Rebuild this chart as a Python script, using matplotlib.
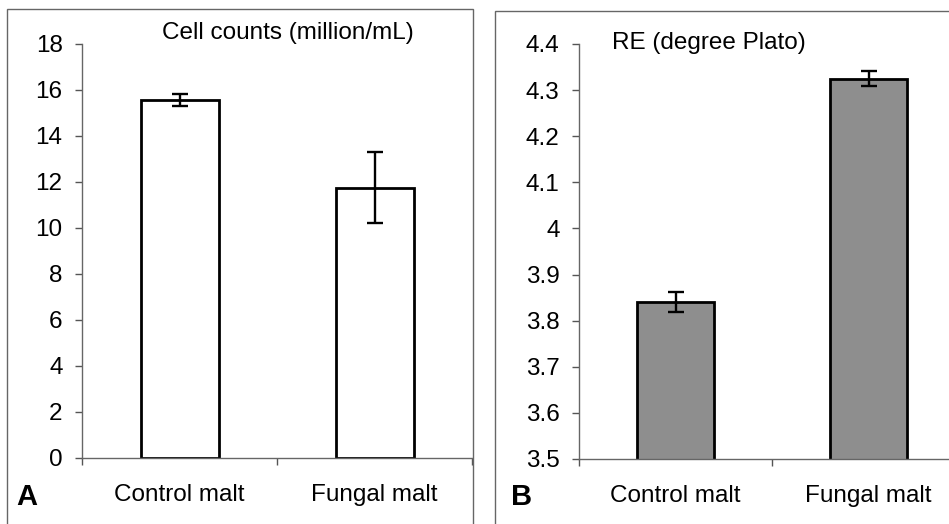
import matplotlib
matplotlib.use("Agg")
import matplotlib.pyplot as plt
from matplotlib.patches import Rectangle

plt.rcParams['font.family'] = ['Liberation Sans', 'DejaVu Sans']

categories = ["Control malt", "Fungal malt"]
cell_counts = [15.57, 11.75]
cell_err = [0.27, 1.55]
re_values = [3.84, 4.325]
re_err = [0.022, 0.016]

W, H = 949, 524
fig = plt.figure(figsize=(W / 100, H / 100), dpi=100)
fig.patch.set_facecolor("white")

def fx(px):
    return px / W

def fy(py):
    return 1 - py / H

# panel borders
for (x0, y0, x1, y1) in [(7, 9, 473, 526), (495, 11, 960, 526)]:
    fig.patches.append(Rectangle((fx(x0), fy(y1)), fx(x1 - x0), (y1 - y0) / H,
                                 transform=fig.transFigure, fill=False,
                                 edgecolor="#666666", linewidth=1.0))

def setup(ax, ylim, yticks, yticklabels):
    ax.set_xlim(-0.5, 1.5)
    ax.set_ylim(*ylim)
    ax.set_yticks(yticks)
    ax.set_yticklabels(yticklabels)
    ax.set_xticks([0, 1])
    ax.set_xticklabels(categories)
    ax.set_xticks([-0.5, 0.5, 1.5], minor=True)
    ax.tick_params(axis="x", which="major", length=0, pad=19, labelsize=17.5)
    ax.tick_params(axis="x", which="minor", length=5, width=1, color="#555555", direction="out")
    ax.tick_params(axis="y", which="major", length=5, width=1, color="#555555", pad=9, labelsize=17.5)
    for s in ["top", "right"]:
        ax.spines[s].set_visible(False)
    for s in ["left", "bottom"]:
        ax.spines[s].set_color("#666666")
        ax.spines[s].set_linewidth(1.0)
    ax.patch.set_alpha(0)

# Panel A
axA = fig.add_axes([fx(82), fy(458), fx(472 - 82), (458 - 44) / H])
axA.bar([0, 1], cell_counts, width=0.4, color="white", edgecolor="black",
        linewidth=2.0, zorder=2)
axA.errorbar([0, 1], cell_counts, yerr=cell_err, fmt="none", ecolor="black",
             elinewidth=1.7, capsize=5.5, capthick=1.7, zorder=3)
setup(axA, (0, 18), list(range(0, 19, 2)), [str(v) for v in range(0, 19, 2)])
fig.text(fx(288), fy(33), "Cell counts (million/mL)", ha="center", va="center", fontsize=17.5)
fig.text(fx(27), fy(497), "A", ha="center", va="center", fontsize=21, fontweight="bold")

# Panel B
axB = fig.add_axes([fx(579), fy(459), fx(965 - 579), (459 - 44) / H])
axB.bar([0, 1], re_values, width=0.4, color="#8e8e8e", edgecolor="black",
        linewidth=2.0, zorder=2)
axB.errorbar([0, 1], re_values, yerr=re_err, fmt="none", ecolor="black",
             elinewidth=1.7, capsize=5.5, capthick=1.7, zorder=3)
b_ticks = [3.5, 3.6, 3.7, 3.8, 3.9, 4.0, 4.1, 4.2, 4.3, 4.4]
b_labels = ["3.5", "3.6", "3.7", "3.8", "3.9", "4", "4.1", "4.2", "4.3", "4.4"]
setup(axB, (3.5, 4.4), b_ticks, b_labels)
fig.text(fx(612), fy(43), "RE (degree Plato)", ha="left", va="center", fontsize=17.5)
fig.text(fx(522), fy(497), "B", ha="center", va="center", fontsize=21, fontweight="bold")

fig.savefig("out.png", dpi=100, facecolor="white")
